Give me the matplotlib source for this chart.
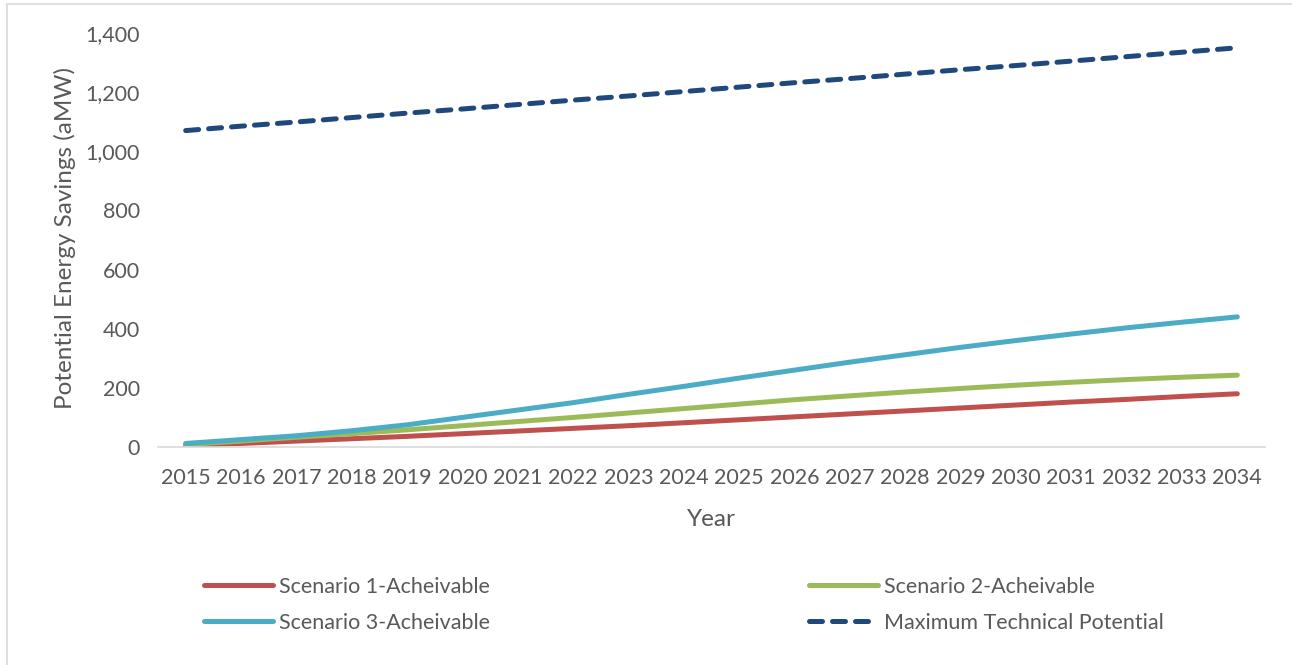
import matplotlib
matplotlib.use("Agg")
import matplotlib.pyplot as plt
from matplotlib.patches import Rectangle
from matplotlib.ticker import FuncFormatter

plt.rcParams['font.family'] = ['Lato', 'DejaVu Sans']

years = [str(y) for y in range(2015, 2035)]
scenario_1 = [5, 12, 20, 28, 36, 45, 54, 63, 72, 82, 92, 102, 112, 122, 132, 142, 152, 161, 171, 180]
scenario_2 = [8, 20, 33, 45, 58, 72, 86, 100, 115, 130, 145, 160, 173, 186, 198, 209, 219, 228, 236, 243]
scenario_3 = [12, 25, 38, 55, 75, 100, 125, 150, 178, 205, 233, 260, 287, 312, 337, 360, 382, 403, 422, 440]
max_technical = [1070, 1085, 1099, 1114, 1129, 1143, 1158, 1173, 1187, 1202,
                 1217, 1232, 1246, 1261, 1276, 1290, 1305, 1320, 1335, 1350]

TEXT = '#595959'
GRAY = '#d9d9d9'

fig = plt.figure(figsize=(12.92, 6.65), dpi=100)
ax = fig.add_axes([158 / 1292, 1 - 447 / 665, (1265 - 158) / 1292, (447 - 33) / 665])

x = range(len(years))
l1, = ax.plot(x, scenario_1, color='#C0504D', lw=3.6, solid_capstyle='round')
l2, = ax.plot(x, scenario_2, color='#9BBB59', lw=3.6, solid_capstyle='round')
l3, = ax.plot(x, scenario_3, color='#4BACC6', lw=3.6, solid_capstyle='round')
l4, = ax.plot(x, max_technical, color='#1F497D', lw=3.6, dashes=(2.6, 2.0),
              dash_capstyle='round')

ax.set_xlim(-0.5, len(years) - 0.5)
ax.set_ylim(0, 1400)
ax.set_xticks(list(x))
ax.set_xticklabels(years)
ax.set_yticks(range(0, 1401, 200))
ax.yaxis.set_major_formatter(FuncFormatter(lambda v, p: f'{int(v):,}'))
ax.tick_params(axis='both', length=0, labelsize=15.5, colors=TEXT)
ax.tick_params(axis='y', pad=13)
ax.tick_params(axis='x', pad=15)

for side in ['top', 'right', 'left']:
    ax.spines[side].set_visible(False)
ax.spines['bottom'].set_color(GRAY)
ax.spines['bottom'].set_linewidth(1.2)

ax.set_xlabel('Year', fontsize=17.5, color=TEXT, labelpad=15)
fig.text(65 / 1292, 1 - 238 / 665, 'Potential Energy Savings (aMW)', rotation=90,
         fontsize=17.5, color=TEXT, ha='center', va='center')

# legend laid out in two columns like the workbook chart
leg_kw = dict(frameon=False, fontsize=15.5, handlelength=3.2, handletextpad=0.28,
              labelspacing=0.73, labelcolor=TEXT, borderaxespad=0, borderpad=0)
fig.legend([l1, l3], ['Scenario 1-Acheivable', 'Scenario 3-Acheivable'],
           loc='upper left', bbox_to_anchor=(204 / 1292, 1 - 577 / 665), **leg_kw)
fig.legend([l2, l4], ['Scenario 2-Acheivable', 'Maximum Technical Potential'],
           loc='upper left', bbox_to_anchor=(809 / 1292, 1 - 577 / 665), **leg_kw)

# chart area outline
fig.patches.append(Rectangle((7 / 1292, -0.01), 1.0, 1 - 4 / 665 + 0.01,
                             transform=fig.transFigure, fill=False,
                             edgecolor=GRAY, lw=1.2))

fig.savefig('out.png', dpi=100)
